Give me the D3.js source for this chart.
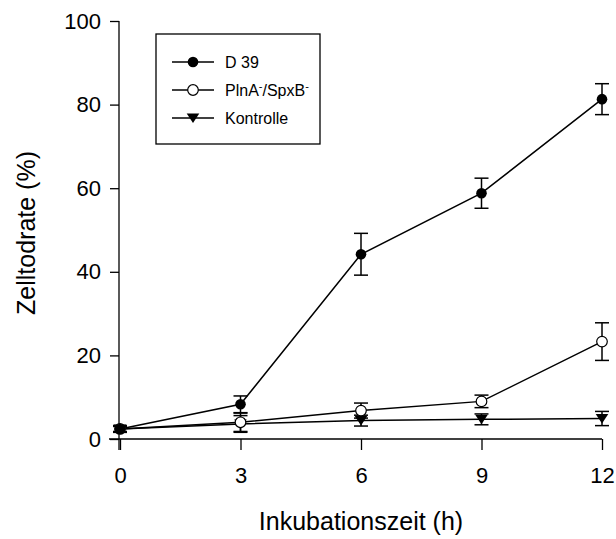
<!DOCTYPE html>
<html>
<head>
<meta charset="utf-8">
<script src="https://cdn.jsdelivr.net/npm/d3@7"></script>
<style>
  html, body { margin: 0; padding: 0; background: #fff; }
  svg { display: block; font-family: "Liberation Sans", Arial, sans-serif; }
</style>
</head>
<body>
<svg id="chart" width="616" height="539"></svg>
<script>
// Incubation time points (h)
const hours = [0, 3, 6, 9, 12];

// Cell death rate (%) per strain, with error bar half-widths
const d39 = [2.4, 8.3, 44.2, 58.8, 81.3];
const d39Err = [0.8, 2.0, 5.0, 3.6, 3.7];
const plnA = [2.4, 4.0, 6.8, 9.0, 23.3];
const plnAErr = [0.6, 2.2, 1.8, 1.5, 4.5];
const kontrolle = [2.4, 3.6, 4.4, 4.7, 4.9];
const kontrolleErr = [0.8, 2.0, 1.3, 1.3, 1.7];

const xTicks = [0, 3, 6, 9, 12];
const yTicks = [0, 20, 40, 60, 80, 100];

const svg = d3.select("#chart");
const FONT = "Liberation Sans, Arial, sans-serif";

const x = d3.scaleLinear().domain([0, 12]).range([120, 602]);
const y = d3.scaleLinear().domain([0, 100]).range([439, 21]);

// Y axis (line runs a little past the x axis)
const yAxis = svg.append("g").attr("transform", `translate(${x(0) - 1},0)`)
  .call(d3.axisLeft(y).tickValues(yTicks).tickSize(9).tickPadding(9).tickSizeOuter(0));
yAxis.select(".domain").remove();
yAxis.append("line").attr("x1", 0).attr("x2", 0).attr("y1", y(100)).attr("y2", 450)
  .attr("stroke", "#000").attr("stroke-width", 1.3);
yAxis.selectAll(".tick line").attr("stroke-width", 1.3);
yAxis.selectAll(".tick text").attr("font-size", 22).attr("fill", "#000").attr("font-family", FONT);

// X axis (line starts a little left of the y axis)
const xAxis = svg.append("g").attr("transform", `translate(0,${y(0)})`)
  .call(d3.axisBottom(x).tickValues(xTicks).tickSize(11).tickPadding(17).tickSizeOuter(0));
xAxis.select(".domain").remove();
xAxis.append("line").attr("x1", 109).attr("x2", x(12)).attr("y1", 0).attr("y2", 0)
  .attr("stroke", "#000").attr("stroke-width", 1.3);
xAxis.selectAll(".tick line").attr("stroke-width", 1.3);
xAxis.selectAll(".tick text").attr("font-size", 22).attr("fill", "#000").attr("font-family", FONT);

// Axis titles
svg.append("text").attr("x", 361).attr("y", 530).attr("text-anchor", "middle")
  .attr("font-size", 25).text("Inkubationszeit (h)");
svg.append("text").attr("transform", "translate(35,233) rotate(-90)")
  .attr("text-anchor", "middle").attr("font-size", 25).text("Zelltodrate (%)");

const series = [
  { name: "D 39", values: d39, err: d39Err, marker: "filled" },
  { name: "PlnA/SpxB", values: plnA, err: plnAErr, marker: "open" },
  { name: "Kontrolle", values: kontrolle, err: kontrolleErr, marker: "triangle" }
];

const line = d3.line().x((d, i) => x(hours[i])).y(d => y(d));
const triPath = "M-6.3,-4.5L6.3,-4.5L0,5Z";

function drawMarker(g, type) {
  if (type === "filled") {
    g.append("circle").attr("r", 5.3).attr("fill", "#000");
  } else if (type === "open") {
    g.append("circle").attr("r", 5.3).attr("fill", "#fff").attr("stroke", "#000").attr("stroke-width", 1.2);
  } else {
    g.append("path").attr("d", triPath).attr("fill", "#000");
  }
}

// Connecting lines
series.slice().reverse().forEach(s => {
  svg.append("path").datum(s.values).attr("d", line)
    .attr("fill", "none").attr("stroke", "#000").attr("stroke-width", 1.5);
});

// Error bars and markers
series.slice().reverse().forEach(s => {
  const g = svg.append("g");
  s.values.forEach((v, i) => {
    const cx = x(hours[i]);
    const top = y(v + s.err[i]), bot = y(v - s.err[i]);
    g.append("line").attr("x1", cx).attr("x2", cx).attr("y1", top).attr("y2", bot)
      .attr("stroke", "#000").attr("stroke-width", 1.5);
    [top, bot].forEach(yy => g.append("line").attr("x1", cx - 7).attr("x2", cx + 7)
      .attr("y1", yy).attr("y2", yy).attr("stroke", "#000").attr("stroke-width", 1.5));
    const m = g.append("g").attr("transform", `translate(${cx},${y(v)})`);
    drawMarker(m, s.marker);
  });
});

// Legend
const legend = svg.append("g");
legend.append("rect").attr("x", 156).attr("y", 34).attr("width", 164).attr("height", 110)
  .attr("fill", "#fff").attr("stroke", "#000").attr("stroke-width", 1.3);
const legendY = [62, 90, 118];
series.forEach((s, i) => {
  const ly = legendY[i];
  legend.append("line").attr("x1", 172).attr("x2", 214).attr("y1", ly).attr("y2", ly)
    .attr("stroke", "#000").attr("stroke-width", 1.5);
  const m = legend.append("g").attr("transform", `translate(193,${ly})`);
  drawMarker(m, s.marker);
  const t = legend.append("text").attr("x", 225).attr("y", ly + 6).attr("font-size", 16);
  if (s.name === "PlnA/SpxB") {
    t.append("tspan").text("PlnA");
    t.append("tspan").attr("dy", -6).attr("font-size", 11).text("-");
    t.append("tspan").attr("dy", 6).text("/SpxB");
    t.append("tspan").attr("dy", -6).attr("font-size", 11).text("-");
  } else {
    t.text(s.name);
  }
});
</script>
</body>
</html>
